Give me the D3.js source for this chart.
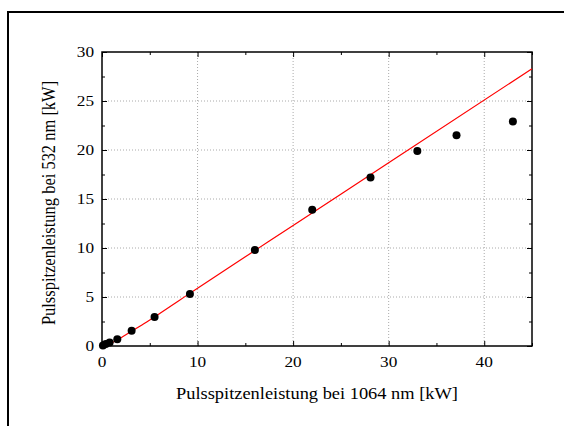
<!DOCTYPE html>
<html><head><meta charset="utf-8">
<script src="https://cdn.jsdelivr.net/npm/d3@7"></script>
<style>body{margin:0;background:#fff}svg{display:block}text{font-family:'Liberation Serif','Times New Roman',serif}</style>
</head><body>
<svg id="c" width="564" height="426"></svg>
<script>
const measX = [0.1, 0.4, 0.8, 1.6, 3.1, 5.5, 9.2, 16.0, 22.0, 28.1, 33.0, 37.1, 43.0];
const measY = [0.05, 0.2, 0.35, 0.7, 1.55, 2.95, 5.3, 9.8, 13.9, 17.2, 19.9, 21.5, 22.9];
const fitX = [0, 0.5, 1, 2, 3, 4, 5, 6, 8, 10, 15, 20, 30, 45];
const fitY = [0, 0.08, 0.3, 0.85, 1.45, 2.05, 2.65, 3.3, 4.6, 5.9, 9.1, 12.3, 18.7, 28.3];
const xTicks = [0, 10, 20, 30, 40];
const yTicks = [0, 5, 10, 15, 20, 25, 30];
const xMinor = [5, 15, 25, 35, 45];
const yMinor = [2.5, 7.5, 12.5, 17.5, 22.5, 27.5];
const xTitle = "Pulsspitzenleistung bei 1064 nm [kW]";
const yTitle = "Pulsspitzenleistung bei 532 nm [kW]";

const svg = d3.select("#c");
const L = 102, R = 532, T = 52, B = 346;
const SX = 1.15; // horizontal stretch of glyphs in the reference
const x = d3.scaleLinear().domain([0, 45]).range([L, R]);
const y = d3.scaleLinear().domain([0, 30]).range([B, T]);
const font = "'Liberation Serif', 'Times New Roman', serif";

// outer frame (clipped by window)
svg.append("rect").attr("x", 8).attr("y", 12).attr("width", 700).attr("height", 600)
  .attr("fill", "none").attr("stroke", "#000").attr("stroke-width", 2);

// grid
const g = svg.append("g");
g.selectAll("line.gx").data(xTicks.filter(d => d > 0)).join("line")
  .attr("x1", d => x(d)).attr("x2", d => x(d)).attr("y1", T).attr("y2", B)
  .attr("stroke", "#aaa").attr("stroke-width", 1).attr("stroke-dasharray", "1,2");
g.selectAll("line.gy").data(yTicks.filter(d => d > 0 && d < 30)).join("line")
  .attr("x1", L).attr("x2", R).attr("y1", d => y(d)).attr("y2", d => y(d))
  .attr("stroke", "#aaa").attr("stroke-width", 1).attr("stroke-dasharray", "1,2");

// axes with inner ticks (labels drawn separately)
function styleAxis(sel) {
  sel.select(".domain").remove();
  sel.selectAll("line").attr("stroke", "#000").attr("stroke-width", 1);
  sel.selectAll("text").remove();
}
function ax(axisFn, scale, vals, size, tr) {
  svg.append("g").attr("transform", tr)
    .call(axisFn(scale).tickValues(vals).tickSize(-size).tickFormat(""))
    .call(styleAxis);
}
ax(d3.axisBottom, x, xTicks, 5, `translate(0,${B})`);
ax(d3.axisBottom, x, xMinor, 3, `translate(0,${B})`);
ax(d3.axisTop, x, xTicks, 5, `translate(0,${T})`);
ax(d3.axisTop, x, xMinor, 3, `translate(0,${T})`);
ax(d3.axisLeft, y, yTicks, 5, `translate(${L},0)`);
ax(d3.axisLeft, y, yMinor, 3, `translate(${L},0)`);
ax(d3.axisRight, y, yTicks, 5, `translate(${R},0)`);
ax(d3.axisRight, y, yMinor, 3, `translate(${R},0)`);

// tick labels
svg.append("g").selectAll("text").data(xTicks).join("text")
  .attr("transform", d => `translate(${x(d)},367) scale(${SX},1)`)
  .attr("text-anchor", "middle").attr("font-family", font).attr("font-size", 15).text(d => d);
svg.append("g").selectAll("text").data(yTicks).join("text")
  .attr("transform", d => `translate(${L - 8},${y(d) + 5}) scale(${SX},1)`)
  .attr("text-anchor", "end").attr("font-family", font).attr("font-size", 15).text(d => d);

// plot border
svg.append("rect").attr("x", L).attr("y", T).attr("width", R - L).attr("height", B - T)
  .attr("fill", "none").attr("stroke", "#000").attr("stroke-width", 1.5);

// fit line
const fit = fitX.map((v, i) => [v, fitY[i]]);
svg.append("path").datum(fit)
  .attr("d", d3.line().x(d => x(d[0])).y(d => y(d[1])).curve(d3.curveMonotoneX))
  .attr("fill", "none").attr("stroke", "#ff0000").attr("stroke-width", 1.2);

// measured points
const pts = measX.map((v, i) => [v, measY[i]]);
svg.append("g").selectAll("circle").data(pts).join("circle")
  .attr("cx", d => x(d[0])).attr("cy", d => y(d[1])).attr("r", 4).attr("fill", "#000");

// titles
svg.append("text").attr("transform", `translate(${(L + R) / 2},399) scale(${SX},1)`)
  .attr("text-anchor", "middle").attr("font-family", font).attr("font-size", 16).text(xTitle);
svg.append("text").attr("transform", `translate(55,203) rotate(-90) scale(1.03,${SX})`)
  .attr("text-anchor", "middle").attr("font-family", font).attr("font-size", 16).text(yTitle);
</script>
</body></html>
